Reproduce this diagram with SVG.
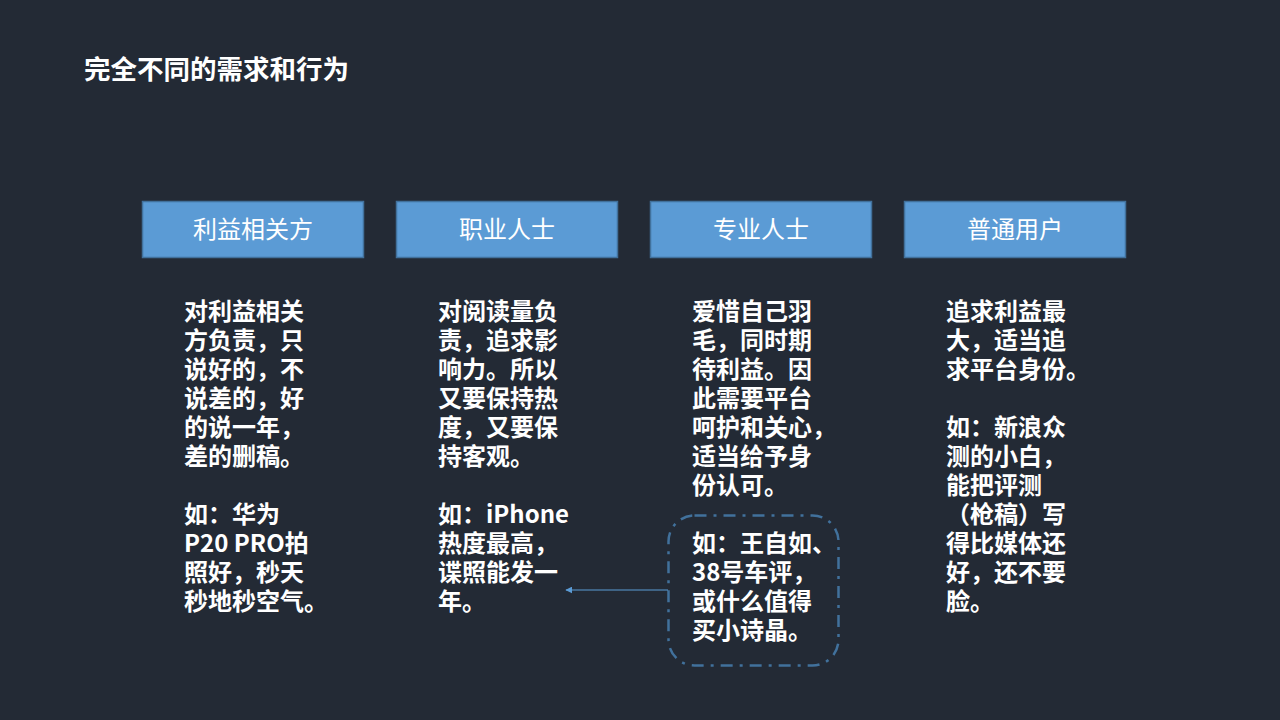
<svg xmlns="http://www.w3.org/2000/svg" width="1280" height="720" viewBox="0 0 1280 720">
<defs>
<style>
.hdr rect{fill:#5b9bd5;stroke:#41719c;stroke-width:1.5}
.hdr text{fill:#ffffff;font-family:"Noto Sans CJK SC","Noto Sans",sans-serif;font-size:24px;text-anchor:middle}
.body{fill:#ffffff;font-family:"Noto Sans CJK SC","Noto Sans",sans-serif;font-size:24px;font-weight:bold}
</style>
<marker id="arr" viewBox="0 0 10 10" refX="9" refY="5" markerWidth="7" markerHeight="7" orient="auto-start-reverse" markerUnits="userSpaceOnUse">
<path d="M0,0 L10,5 L0,10 z" fill="#5b9bd5"/>
</marker>
</defs>
<rect width="1280" height="720" fill="#232a35"/>
<text x="84" y="79" fill="#ffffff" font-family="'Noto Sans CJK SC','Noto Sans',sans-serif" font-size="26.5" font-weight="bold">完全不同的需求和行为</text>

<g id="h1" class="hdr"><rect x="142.5" y="201.5" width="221" height="56"/><text x="253" y="238">利益相关方</text></g>
<g id="h2" class="hdr"><rect x="396.5" y="201.5" width="221" height="56"/><text x="507" y="238">职业人士</text></g>
<g id="h3" class="hdr"><rect x="650.5" y="201.5" width="221" height="56"/><text x="761" y="238">专业人士</text></g>
<g id="h4" class="hdr"><rect x="904.5" y="201.5" width="221" height="56"/><text x="1015" y="238">普通用户</text></g>

<g id="t1"><text class="body">
<tspan x="184" y="320">对利益相关</tspan>
<tspan x="184" y="349">方负责，只</tspan>
<tspan x="184" y="378">说好的，不</tspan>
<tspan x="184" y="407">说差的，好</tspan>
<tspan x="184" y="436">的说一年，</tspan>
<tspan x="184" y="465">差的删稿。</tspan>
<tspan x="184" y="523">如：华为</tspan>
<tspan x="184" y="552">P20 PRO拍</tspan>
<tspan x="184" y="581">照好，秒天</tspan>
<tspan x="184" y="610">秒地秒空气。</tspan>
</text></g>

<g id="t2"><text class="body">
<tspan x="438" y="320">对阅读量负</tspan>
<tspan x="438" y="349">责，追求影</tspan>
<tspan x="438" y="378">响力。所以</tspan>
<tspan x="438" y="407">又要保持热</tspan>
<tspan x="438" y="436">度，又要保</tspan>
<tspan x="438" y="465">持客观。</tspan>
<tspan x="438" y="523">如：iPhone</tspan>
<tspan x="438" y="552">热度最高，</tspan>
<tspan x="438" y="581">谍照能发一</tspan>
<tspan x="438" y="610">年。</tspan>
</text></g>

<g id="t3"><text class="body">
<tspan x="692" y="320">爱惜自己羽</tspan>
<tspan x="692" y="349">毛，同时期</tspan>
<tspan x="692" y="378">待利益。因</tspan>
<tspan x="692" y="407">此需要平台</tspan>
<tspan x="692" y="436">呵护和关心，</tspan>
<tspan x="692" y="465">适当给予身</tspan>
<tspan x="692" y="494">份认可。</tspan>
</text></g>

<g id="ex3">
<rect x="668.5" y="515.5" width="170" height="150" rx="26" ry="26" fill="none" stroke="#41719c" stroke-width="2.5" stroke-dasharray="12 7 3 7"/>
<text class="body">
<tspan x="692" y="552">如：王自如、</tspan>
<tspan x="692" y="581">38号车评，</tspan>
<tspan x="692" y="610">或什么值得</tspan>
<tspan x="692" y="639">买小诗晶。</tspan>
</text>
</g>

<g id="t4"><text class="body">
<tspan x="946" y="320">追求利益最</tspan>
<tspan x="946" y="349">大，适当追</tspan>
<tspan x="946" y="378">求平台身份。</tspan>
<tspan x="946" y="436">如：新浪众</tspan>
<tspan x="946" y="465">测的小白，</tspan>
<tspan x="946" y="494">能把评测</tspan>
<tspan x="946" y="523">（枪稿）写</tspan>
<tspan x="946" y="552">得比媒体还</tspan>
<tspan x="946" y="581">好，还不要</tspan>
<tspan x="946" y="610">脸。</tspan>
</text></g>

<g id="connectors">
<line x1="668" y1="590" x2="566" y2="590" stroke="#5b9bd5" stroke-width="1.2" marker-end="url(#arr)"/>
</g>
</svg>
